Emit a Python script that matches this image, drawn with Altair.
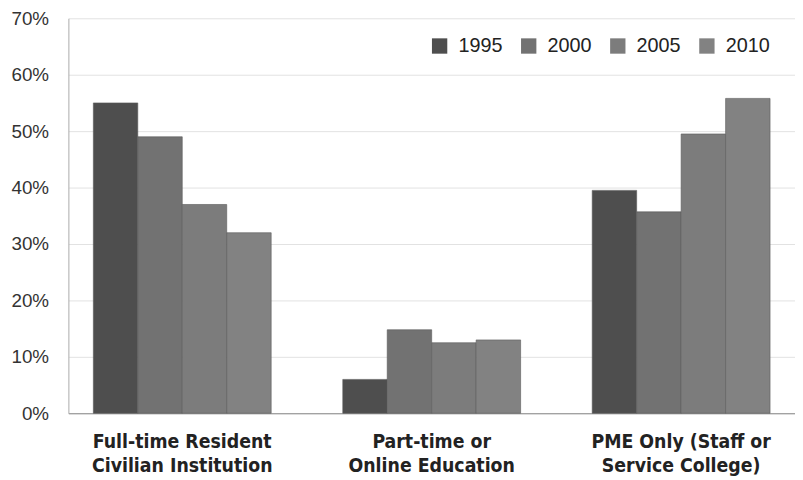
import altair as alt
import pandas as pd

categories = ["Full-time Resident\nCivilian Institution",
              "Part-time or\nOnline Education",
              "PME Only (Staff or\nService College)"]
years = ["1995", "2000", "2005", "2010"]
v1995 = [0.55, 0.06, 0.395]
v2000 = [0.49, 0.148, 0.357]
v2005 = [0.37, 0.125, 0.495]
v2010 = [0.32, 0.13, 0.558]
colors = ["#4e4e4e", "#727272", "#7c7c7c", "#828282"]

rows = []
for yr, vals in zip(years, [v1995, v2000, v2005, v2010]):
    for c, v in zip(categories, vals):
        rows.append({"cat": c, "year": yr, "value": v})
df = pd.DataFrame(rows)

chart = alt.Chart(df).mark_bar(stroke="#5a5a5a", strokeWidth=0.6).encode(
    x=alt.X("cat:N", sort=categories, title=None,
            scale=alt.Scale(paddingInner=0.287, paddingOuter=0.1),
            axis=alt.Axis(labelAngle=0, labelExpr="split(datum.label, '\\n')",
                          labelFont="Liberation Sans Narrow, DejaVu Sans Condensed, Liberation Sans",
                          labelFontWeight="bold", labelFontSize=19.5, labelColor="#222222",
                          labelLineHeight=24, labelPadding=29, labelLimit=400, ticks=False,
                          domainColor="#888888", labelBaseline="middle")),
    xOffset=alt.XOffset("year:N", sort=years),
    y=alt.Y("value:Q", title=None,
            scale=alt.Scale(domain=[0, 0.7], nice=False),
            axis=alt.Axis(format=".0%", values=[0, 0.1, 0.2, 0.3, 0.4, 0.5, 0.6, 0.7],
                          labelFont="Liberation Sans", labelFontSize=19, labelColor="#333333",
                          labelPadding=20, ticks=False, domainColor="#aaaaaa",
                          gridColor="#e2e2e2")),
    color=alt.Color("year:N", sort=years, title=None,
                    scale=alt.Scale(domain=years, range=colors),
                    legend=alt.Legend(orient="none", legendX=365, legendY=18,
                                      direction="horizontal", columns=4,
                                      symbolType="square", symbolSize=240,
                                      symbolStrokeWidth=0, labelFontSize=20,
                                      labelFont="Liberation Sans", labelColor="#222222",
                                      labelOffset=9, columnPadding=16)),
).properties(
    width=734, height=399,
    autosize=alt.AutoSizeParams(type="none"),
    padding={"left": 61, "top": 8, "right": 0, "bottom": 64},
).configure_view(stroke=None)

chart.save("out.html", embed_options={"renderer": "svg", "actions": False})
